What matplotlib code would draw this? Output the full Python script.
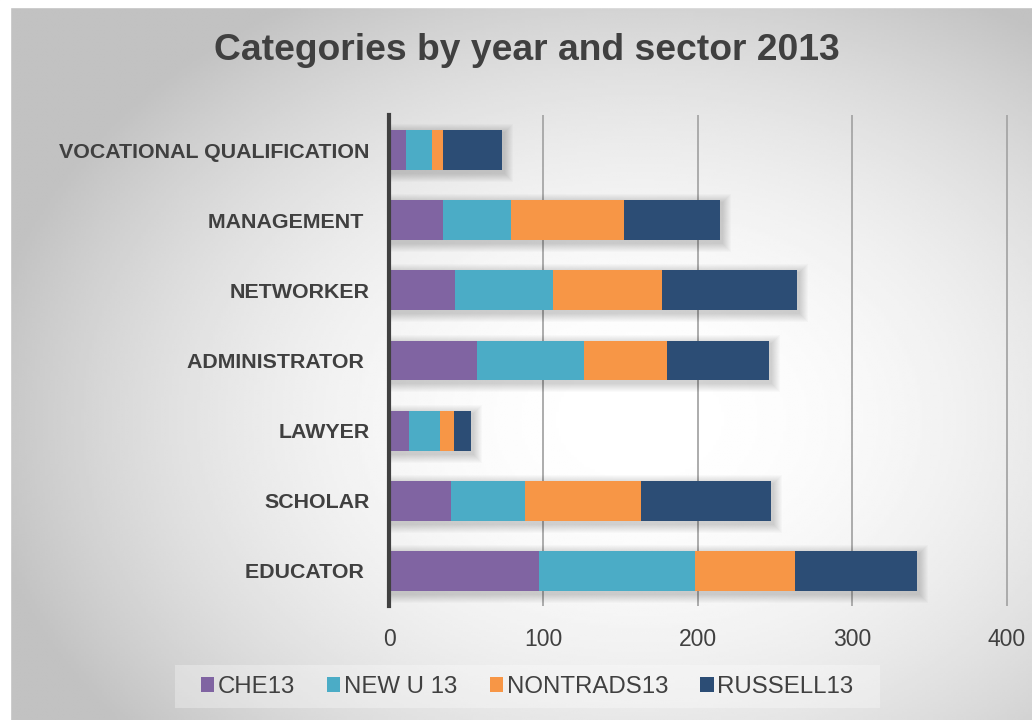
import numpy as np
import matplotlib
matplotlib.use("Agg")
import matplotlib.pyplot as plt
from matplotlib.patches import Rectangle

plt.rcParams['font.family'] = ['Liberation Sans', 'DejaVu Sans']

# categories listed bottom to top
categories = ['EDUCATOR ', 'SCHOLAR', 'LAWYER', 'ADMINISTRATOR ', 'NETWORKER',
              'MANAGEMENT ', 'VOCATIONAL QUALIFICATION']
che13 = [97, 40, 13, 57, 43, 35, 11]
newu13 = [101, 48, 20, 69, 63, 44, 17]
nontrads13 = [65, 75, 9, 54, 71, 73, 7]
russell13 = [79, 84, 11, 66, 87, 62, 38]

series_names = ['CHE13', 'NEW U 13', 'NONTRADS13', 'RUSSELL13']
series_colors = ['#8064A2', '#4BACC6', '#F79646', '#2C4D75']
text_col = '#404040'

W, H = 1032, 720
fig = plt.figure(figsize=(W / 100, H / 100), dpi=100, facecolor='white')

# soft radial gradient behind everything
bg = fig.add_axes([0, 0, 1, 1], zorder=-5)
xx, yy = np.meshgrid(np.linspace(0, W, 400), np.linspace(0, H, 300))
r2 = ((xx - 640) / 680) ** 2 + ((yy - 420) / 500) ** 2
shade = np.clip(1.0 - 0.25 * r2, 0.76, 1.0)
bg.imshow(shade, cmap='gray', vmin=0, vmax=1, extent=[0, W, H, 0],
          aspect='auto', interpolation='bilinear')
bg.add_patch(Rectangle((0, 0), 10, H, color='white'))
bg.add_patch(Rectangle((0, 0), W, 7, color='white'))
bg.set_xlim(0, W)
bg.set_ylim(H, 0)
bg.axis('off')

# legend panel
bg.add_patch(Rectangle((175, 665), 705, 43, color='white', alpha=0.3, lw=0))

ax = fig.add_axes([389 / W, (H - 606) / H, 621 / W, 491 / H])
ax.set_facecolor('none')

y = np.arange(len(categories))
data = np.array([che13, newu13, nontrads13, russell13], dtype=float)
totals = data.sum(axis=0)
bar_h = 0.57

# blurred drop shadow under each stacked bar
px_x = 402 / 621
px_y = 7 / 491
for k in range(1, 10):
    ax.barh(y - 3 * px_y, totals + 2 * k * px_x, height=bar_h + 2 * k * px_y,
            left=-k * px_x + 2 * px_x, color='black', alpha=0.02, lw=0, zorder=1)

left = np.zeros(len(categories))
for vals, name, col in zip(data, series_names, series_colors):
    ax.barh(y, vals, left=left, height=bar_h, color=col, label=name, lw=0, zorder=3)
    left += vals

ax.set_xlim(0, 402)
ax.set_ylim(-0.5, len(categories) - 0.5)
ax.set_xticks([0, 100, 200, 300, 400])
ax.set_yticks(y)
ax.set_yticklabels(categories, fontsize=15.4, fontweight='bold', color=text_col)
ax.tick_params(axis='y', length=0, pad=14)
ax.tick_params(axis='x', length=0, pad=16, labelsize=16.5, labelcolor=text_col)
ax.grid(axis='x', color='#a6a6a6', lw=1.3, zorder=0)
ax.set_axisbelow(True)
for s in ['top', 'right', 'bottom']:
    ax.spines[s].set_visible(False)
ax.spines['left'].set_color(text_col)
ax.spines['left'].set_linewidth(3)
ax.spines['left'].set_zorder(5)

fig.text(527 / W, 1 - 50 / H, 'Categories by year and sector 2013', ha='center',
         va='center', fontsize=26.8, fontweight='bold', color=text_col)

leg = fig.legend(loc='center', bbox_to_anchor=(527 / W, 1 - 687 / H), ncol=4,
                 frameon=False, fontsize=17.3, handlelength=0.55, handleheight=0.55,
                 handletextpad=0.15, columnspacing=1.35, labelcolor=text_col)

fig.savefig('out.png', dpi=100, facecolor='white')
